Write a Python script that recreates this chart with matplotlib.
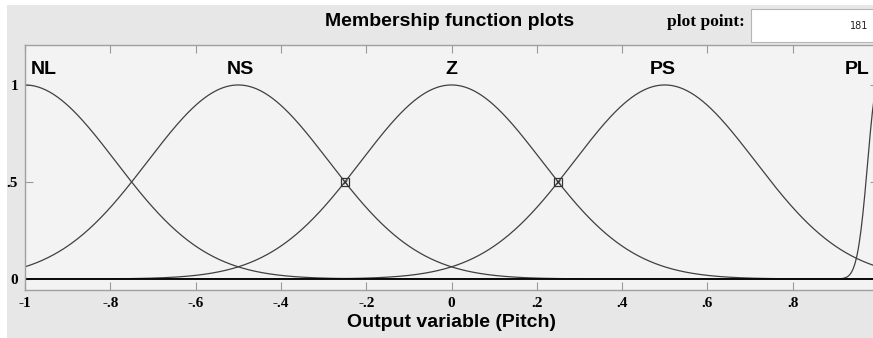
import matplotlib
matplotlib.use("Agg")
import matplotlib.pyplot as plt
import numpy as np
from matplotlib.patches import Rectangle

# Gaussian membership functions of the output variable
mf_names = ["NL", "NS", "Z", "PS", "PL"]
mf_centers = [-1.0, -0.5, 0.0, 0.5, 1.0]
mf_sigmas = [0.2123, 0.2123, 0.2123, 0.2123, 0.024]
label_x = [-0.955, -0.495, 0.0, 0.495, 0.952]
cross_x = [-0.25, 0.25]
cross_y = [0.5, 0.5]

x_ticks = [-1, -0.8, -0.6, -0.4, -0.2, 0, 0.2, 0.4, 0.6, 0.8]
x_ticklabels = ["-1", "-.8", "-.6", "-.4", "-.2", "0", ".2", ".4", ".6", ".8"]
y_ticks = [0, 0.5, 1]
y_ticklabels = ["0", ".5", "1"]
plot_points = 181

W, H = 873, 338
fig = plt.figure(figsize=(W / 100, H / 100), dpi=100, facecolor="#e7e7e7")

# thin white margin at top and left, kept behind everything else
fig.patches.append(Rectangle((0, 0), 7 / W, 1, transform=fig.transFigure,
                             facecolor="white", edgecolor="none", zorder=-5))
fig.patches.append(Rectangle((0, 1 - 5 / H), 1, 5 / H, transform=fig.transFigure,
                             facecolor="white", edgecolor="none", zorder=-5))

ax = fig.add_axes([25 / W, (H - 290) / H, 853 / W, 245 / H])
ax.set_facecolor("#f3f3f3")

xs = np.linspace(-1, 1, plot_points * 5)
for c, s in zip(mf_centers, mf_sigmas):
    ys = np.exp(-(xs - c) ** 2 / (2 * s ** 2))
    ax.plot(xs, ys, color="#404040", lw=0.9)

ax.axhline(0, color="black", lw=1.2)

for name, lx in zip(mf_names, label_x):
    ax.text(lx, 1.08, name, ha="center", va="center", fontsize=14,
            fontweight="bold", family="Liberation Sans")

ax.plot(cross_x, cross_y, ls="none", marker="s", ms=6, mfc="none",
        mec="#333333", mew=0.9)
ax.plot(cross_x, cross_y, ls="none", marker="x", ms=3.5, mec="#333333", mew=0.7)

ax.set_xlim(-1, 1)
ax.set_ylim(-0.057, 1.206)
ax.set_xticks(x_ticks)
ax.set_xticklabels(x_ticklabels)
ax.set_yticks(y_ticks)
ax.set_yticklabels(y_ticklabels)
ax.tick_params(direction="in", length=6, width=0.8, color="#999999",
               top=True, right=True, labelsize=11)
ax.tick_params(axis="x", pad=5)
ax.tick_params(axis="y", pad=5)
for lab in ax.get_xticklabels() + ax.get_yticklabels():
    lab.set_family("Liberation Serif")
    lab.set_fontweight("bold")
for sp in ax.spines.values():
    sp.set_color("#a0a0a0")
    sp.set_linewidth(1.0)

ax.set_xlabel("Output variable (Pitch)", fontsize=14, fontweight="bold",
              family="Liberation Sans", labelpad=3)

fig.text(450 / W, 1 - 22 / H, "Membership function plots", ha="center",
         va="center", fontsize=14, fontweight="bold", family="Liberation Sans")
fig.text(745 / W, 1 - 22 / H, "plot point:", ha="right", va="center",
         fontsize=12.5, fontweight="bold", family="Liberation Serif")
fig.patches.append(Rectangle((751 / W, 1 - 42 / H), 130 / W, 33 / H,
                             transform=fig.transFigure, facecolor="white",
                             edgecolor="#b5b5b5", lw=0.8))
fig.text(868 / W, 1 - 26 / H, str(plot_points), ha="right", va="center",
         fontsize=7, family="DejaVu Sans", color="#222222")

fig.savefig("out.png", dpi=100, facecolor=fig.get_facecolor())
